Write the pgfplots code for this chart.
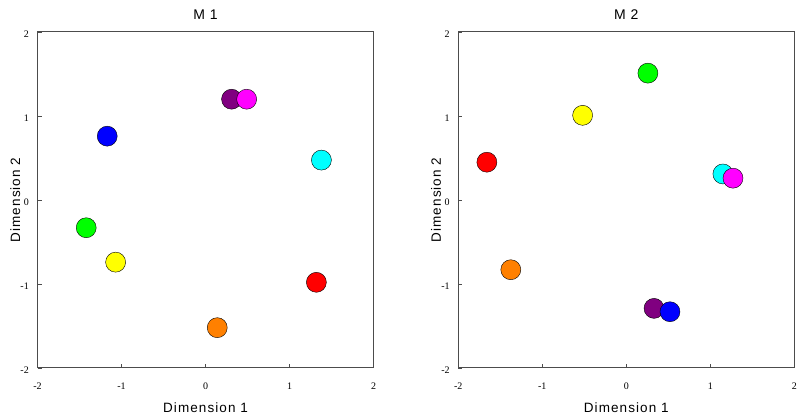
\documentclass[border=0pt]{standalone}
\usepackage{fontspec}
\setmainfont{Liberation Serif}
\newfontfamily\labfont[LetterSpace=8]{Liberation Sans}
\usepackage{pgfplots}
\pgfplotsset{compat=1.18}

% colours of the objects
\definecolor{cPurple}{RGB}{128,0,128}
\definecolor{cMagenta}{RGB}{255,0,255}
\definecolor{cBlue}{RGB}{0,0,255}
\definecolor{cCyan}{RGB}{0,255,255}
\definecolor{cGreen}{RGB}{0,255,0}
\definecolor{cYellow}{RGB}{255,255,0}
\definecolor{cRed}{RGB}{255,0,0}
\definecolor{cOrange}{RGB}{255,128,0}

\pgfplotsset{
  mdsaxis/.style={
    width=336pt, height=336pt, scale only axis,
    xmin=-2, xmax=2, ymin=-2, ymax=2,
    xtick={-2,-1,0,1,2}, ytick={-2,-1,0,1,2},
    xticklabels={-2,-1,0,1,2}, yticklabels={-2,-1,0,1,2},
    xtick pos=bottom, ytick pos=left,
    tick align=inside, major tick length=4pt,
    axis line style={black!70, line width=1pt},
    tick style={black!70, line width=0.8pt},
    ticklabel style={font=\fontsize{10}{12}\selectfont},
    xticklabel style={anchor=base, yshift=-21.5pt},
    yticklabel style={anchor=east, inner sep=0pt, xshift=-8.5pt, yshift=-2.5pt},
    label style={font=\labfont\fontsize{13.5}{15}\selectfont},
    xlabel={Dimension 1}, ylabel={Dimension 2},
    xlabel style={at={(axis description cs:0.5,0)}, anchor=base, yshift=-45pt},
    ylabel style={at={(axis description cs:-0.052,0.5)}, anchor=base},
    title style={font=\labfont\fontsize{14}{16}\selectfont, at={(axis description cs:0.5,1)}, anchor=base, yshift=6.5pt},
    every axis plot/.append style={only marks, mark=*, mark size=10pt,
      mark options={draw=black, line width=0.8pt}},
  },
}

\begin{document}
\begin{tikzpicture}[x=1pt,y=1pt]
\path[use as bounding box] (0,0) rectangle (800,417);

% ---- M1 ----
\begin{axis}[mdsaxis, at={(37.5pt,49pt)}, anchor=south west, title={M 1}]
\addplot[mark options={fill=cPurple}]  coordinates {(0.31,1.20)};
\addplot[mark options={fill=cMagenta}] coordinates {(0.49,1.20)};
\addplot[mark options={fill=cBlue}]    coordinates {(-1.17,0.76)};
\addplot[mark options={fill=cCyan}]    coordinates {(1.38,0.475)};
\addplot[mark options={fill=cGreen}]   coordinates {(-1.42,-0.33)};
\addplot[mark options={fill=cYellow}]  coordinates {(-1.07,-0.74)};
\addplot[mark options={fill=cRed}]     coordinates {(1.32,-0.98)};
\addplot[mark options={fill=cOrange}]  coordinates {(0.14,-1.52)};
\end{axis}

% ---- M2 ----
\begin{axis}[mdsaxis, at={(458.3pt,49pt)}, anchor=south west, title={M 2}]
\addplot[mark options={fill=cPurple}]  coordinates {(0.33,-1.29)};
\addplot[mark options={fill=cBlue}]    coordinates {(0.52,-1.33)};
\addplot[mark options={fill=cCyan}]    coordinates {(1.15,0.31)};
\addplot[mark options={fill=cMagenta}] coordinates {(1.27,0.26)};
\addplot[mark options={fill=cGreen}]   coordinates {(0.257,1.51)};
\addplot[mark options={fill=cYellow}]  coordinates {(-0.52,1.008)};
\addplot[mark options={fill=cRed}]     coordinates {(-1.66,0.45)};
\addplot[mark options={fill=cOrange}]  coordinates {(-1.375,-0.83)};
\end{axis}
\end{tikzpicture}
\end{document}
